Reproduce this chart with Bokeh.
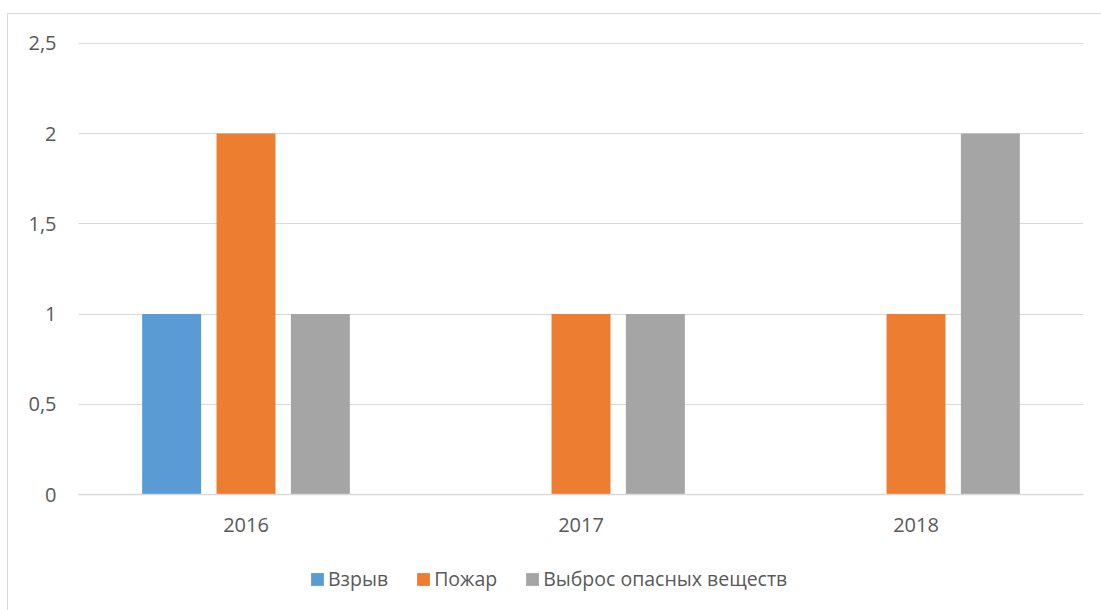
from bokeh.plotting import figure
from bokeh.layouts import column
from bokeh.models import FactorRange, Range1d, FixedTicker, Legend, LegendItem
from bokeh.transform import dodge
from bokeh.embed import file_html
from bokeh.resources import INLINE
from bokeh.models import ColumnDataSource

years = ["2016", "2017", "2018"]
vzryv = [1, 0, 0]
pozhar = [2, 1, 1]
vybros = [1, 1, 2]
series_names = ["Взрыв", "Пожар", "Выброс опасных веществ"]
colors = ["#5B9BD5", "#ED7D31", "#A5A5A5"]
y_ticks = [0, 0.5, 1, 1.5, 2, 2.5]
y_tick_labels = ["0", "0,5", "1", "1,5", "2", "2,5"]

src = ColumnDataSource(dict(years=years, vzryv=vzryv, pozhar=pozhar, vybros=vybros))

FONT = "Open Sans"
TXT = "#595959"
FS = "20px"

W = 1093
p = figure(x_range=FactorRange(*years, range_padding=0), y_range=Range1d(0, 2.505),
           width=W, height=545, output_backend="svg", toolbar_location=None,
           min_border_left=70, min_border_right=18, min_border_top=28, min_border_bottom=65)
p.outline_line_color = None

renderers = []
for field, off, col in zip(["vzryv", "pozhar", "vybros"], [-0.222, 0, 0.222], colors):
    r = p.vbar(x=dodge("years", off, range=p.x_range), top=field, width=0.176,
               source=src, fill_color=col, line_color=None)
    renderers.append(r)

p.yaxis.ticker = FixedTicker(ticks=y_ticks)
p.yaxis.major_label_overrides = {t: l for t, l in zip(y_ticks, y_tick_labels)}
p.yaxis.axis_line_color = None
p.yaxis.major_tick_line_color = None
p.yaxis.minor_tick_line_color = None
p.yaxis.major_label_standoff = 16
p.yaxis.major_label_text_font = FONT
p.yaxis.major_label_text_font_size = FS
p.yaxis.major_label_text_color = TXT

p.xaxis.axis_line_color = "#D9D9D9"
p.xaxis.axis_line_width = 1.5
p.xaxis.major_tick_line_color = None
p.xaxis.minor_tick_line_color = None
p.xaxis.major_label_standoff = 17
p.xaxis.major_label_text_font = FONT
p.xaxis.major_label_text_font_size = FS
p.xaxis.major_label_text_color = TXT

p.xgrid.grid_line_color = None
p.ygrid.grid_line_color = "#D9D9D9"
p.ygrid.grid_line_width = 1.2

# legend strip below the chart
p2 = figure(width=W, height=51, output_backend="svg", toolbar_location=None,
            x_range=Range1d(0, 1), y_range=Range1d(0, 1),
            x_axis_location=None, y_axis_location=None,
            min_border_left=0, min_border_right=0, min_border_top=0, min_border_bottom=0)
p2.outline_line_color = None
p2.xgrid.visible = False
p2.ygrid.visible = False
leg_r = []
for col in colors:
    # zero-height stand-in renderers that only carry the legend colour
    leg_r.append(p2.vbar(x=[0.5], top=[0], bottom=[0], width=0.0, fill_color=col,
                         line_color=None))

legend = Legend(items=[LegendItem(label=n, renderers=[r]) for n, r in zip(series_names, leg_r)],
                orientation="horizontal", location=(231, 18),
                label_text_font=FONT, label_text_font_size="19.5px", label_text_color=TXT,
                glyph_width=16, glyph_height=16, spacing=27, label_standoff=3,
                border_line_color=None, background_fill_alpha=0, padding=0, margin=0)
p2.add_layout(legend, "center")

layout = column(p, p2, spacing=0)
layout.margin = (13, 0, 0, 7)
layout.styles = {"border-left": "1px solid #D9D9D9", "border-top": "1px solid #D9D9D9"}

open("out.html", "w").write(file_html(layout, INLINE))
